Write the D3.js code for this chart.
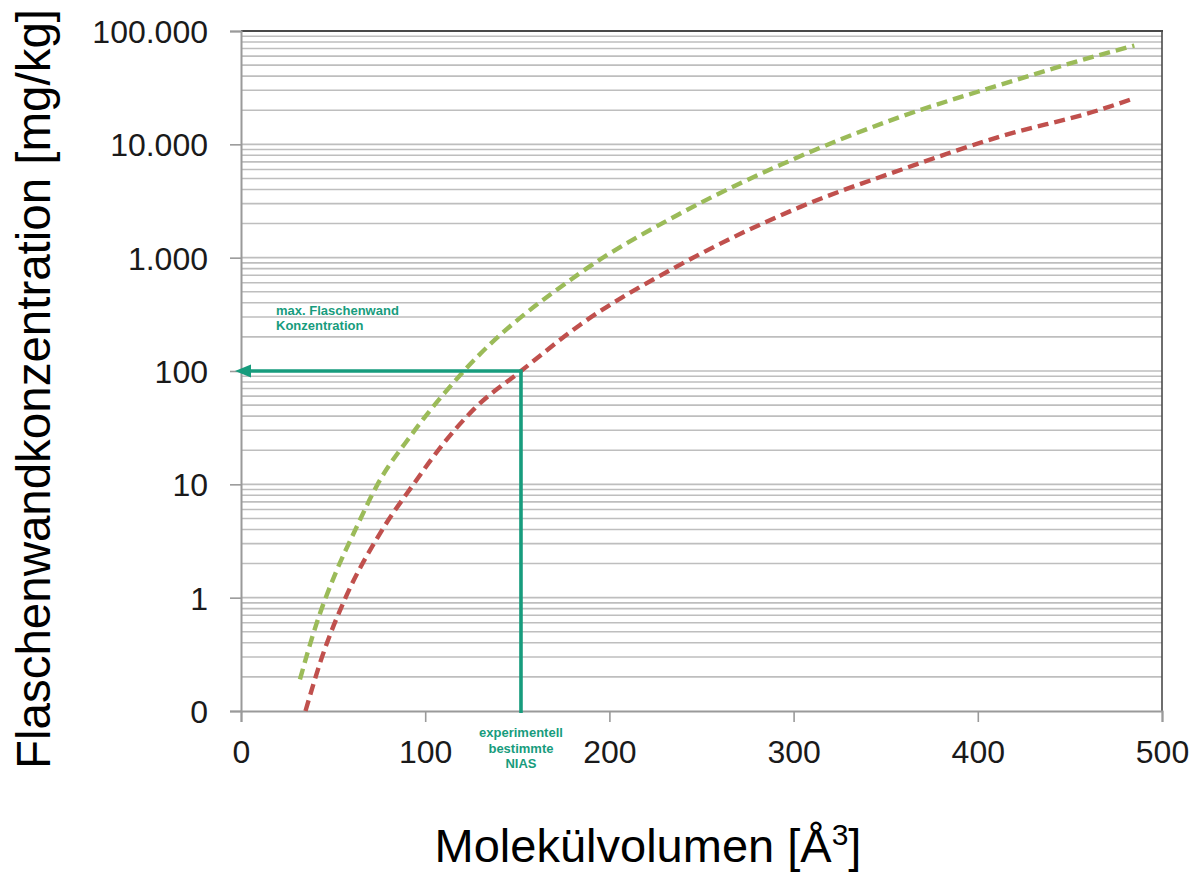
<!DOCTYPE html>
<html>
<head>
<meta charset="utf-8">
<script src="https://cdn.jsdelivr.net/npm/d3@7"></script>
<style>
  html, body { margin: 0; padding: 0; background: #ffffff; }
  svg { display: block; font-family: "Liberation Sans", Arial, sans-serif; }
</style>
</head>
<body>
<svg id="chart" width="1194" height="873"></svg>
<script>
// ---- data ----
const xTickValues = [0, 100, 200, 300, 400, 500];
const xTickLabels = ["0", "100", "200", "300", "400", "500"];
const yTickValues = [0.1, 1, 10, 100, 1000, 10000, 100000];
const yTickLabels = ["0", "1", "10", "100", "1.000", "10.000", "100.000"];

const greenVolume = [32, 41, 52, 62, 74, 93, 121, 184, 238, 293, 358, 412, 466, 485];
const greenConc   = [0.19, 0.59, 1.75, 3.95, 9.9, 28, 100, 730, 2430, 6600, 17500, 33400, 61400, 74300];

const redVolume = [35, 44, 57, 75.5, 94, 110, 127, 152, 184, 238, 304, 358, 412, 466, 485];
const redConc   = [0.1, 0.3, 1.02, 3.7, 10.2, 23, 47, 100, 255, 860, 2820, 5940, 11700, 20100, 25500];

const niasVolume = 152;
const niasConc = 100;
const niasLabel = ["experimentell", "bestimmte", "NIAS"];
const maxLabel = ["max. Flaschenwand", "Konzentration"];

const xTitle = "Molekülvolumen [Å";
const xTitleSup = "3";
const yTitle = "Flaschenwandkonzentration [mg/kg]";

// ---- layout ----
const plotLeft = 241, plotRight = 1162, plotTop = 31, plotBottom = 711;
const svg = d3.select("#chart");

const x = d3.scaleLinear().domain([0, 500]).range([plotLeft, plotRight]);
const y = d3.scaleLog().domain([0.1, 100000]).range([plotBottom, plotTop]);

const teal = "#179C7D";
const gridColor = "#BEBEBE";

// grid lines (major + minor per decade)
const gridVals = [];
for (let e = -1; e < 5; e++) {
  for (let m = 1; m <= 9; m++) {
    const v = m * Math.pow(10, e);
    if (v > 0.1) gridVals.push(v);
  }
}
svg.append("g").selectAll("line").data(gridVals).join("line")
  .attr("x1", plotLeft).attr("x2", plotRight)
  .attr("y1", d => y(d)).attr("y2", d => y(d))
  .attr("stroke", gridColor).attr("stroke-width", 1.6);

// top and right border
svg.append("line").attr("x1", plotLeft).attr("x2", plotRight + 1).attr("y1", y(100000)).attr("y2", y(100000))
  .attr("stroke", "#4a4a4a").attr("stroke-width", 2);
svg.append("line").attr("x1", plotRight).attr("x2", plotRight).attr("y1", plotTop).attr("y2", plotBottom)
  .attr("stroke", "#4a4a4a").attr("stroke-width", 1.6);

// y axis
const yAxis = d3.axisLeft(y).tickValues(yTickValues)
  .tickFormat((d, i) => yTickLabels[i]).tickSize(11).tickPadding(22);
const gy = svg.append("g").attr("transform", `translate(${plotLeft},0)`).call(yAxis);
gy.select(".domain").attr("stroke", "#9a9a9a").attr("stroke-width", 2);
gy.selectAll(".tick line").attr("stroke", "#9a9a9a").attr("stroke-width", 1.6);
gy.selectAll(".tick text").attr("font-size", 32).attr("fill", "#1a1a1a")
  .attr("font-family", "Liberation Sans, Arial, sans-serif").attr("dy", "0.36em");

// x axis
const xAxis = d3.axisBottom(x).tickValues(xTickValues)
  .tickFormat((d, i) => xTickLabels[i]).tickSize(11).tickPadding(18);
const gx = svg.append("g").attr("transform", `translate(0,${plotBottom})`).call(xAxis);
gx.select(".domain").attr("stroke", "#9a9a9a").attr("stroke-width", 2);
gx.selectAll(".tick line").attr("stroke", "#9a9a9a").attr("stroke-width", 1.6);
gx.selectAll(".tick text").attr("font-size", 32).attr("fill", "#1a1a1a")
  .attr("font-family", "Liberation Sans, Arial, sans-serif").attr("dy", "0.71em");

// curves
const line = d3.line().x(d => x(d[0])).y(d => y(d[1])).curve(d3.curveMonotoneX);
svg.append("path").datum(d3.zip(greenVolume, greenConc))
  .attr("d", line).attr("fill", "none").attr("stroke", "#9BBB59")
  .attr("stroke-width", 4.4).attr("stroke-dasharray", "11,6");
svg.append("path").datum(d3.zip(redVolume, redConc))
  .attr("d", line).attr("fill", "none").attr("stroke", "#C0504D")
  .attr("stroke-width", 4.4).attr("stroke-dasharray", "11,6");

// NIAS marker lines
svg.append("path")
  .attr("d", `M${x(niasVolume)},${y(0.1) + 2} L${x(niasVolume)},${y(niasConc)} L${x(0) - 1},${y(niasConc)}`)
  .attr("fill", "none").attr("stroke", teal).attr("stroke-width", 3.6);
const ax = x(0) - 6, ay = y(niasConc);
svg.append("path")
  .attr("d", `M${ax},${ay} L${ax + 16},${ay - 6.5} L${ax + 16},${ay + 6.5} Z`)
  .attr("fill", teal);

// annotations
svg.append("text").attr("x", 276).attr("y", 315)
  .attr("font-size", 13).attr("font-weight", "bold").attr("fill", teal)
  .selectAll("tspan").data(maxLabel).join("tspan")
  .attr("x", 276).attr("dy", (d, i) => i === 0 ? 0 : 15).text(d => d);

svg.append("text").attr("x", x(niasVolume)).attr("y", 737)
  .attr("font-size", 13).attr("font-weight", "bold").attr("fill", teal)
  .attr("text-anchor", "middle")
  .selectAll("tspan").data(niasLabel).join("tspan")
  .attr("x", x(niasVolume)).attr("dy", (d, i) => i === 0 ? 0 : 15.5).text(d => d);

// axis titles
const xt = svg.append("text").attr("x", 648).attr("y", 862)
  .attr("text-anchor", "middle").attr("font-size", 47).attr("fill", "#000");
xt.append("tspan").text(xTitle);
xt.append("tspan").text(xTitleSup).attr("font-size", 30).attr("dy", -17);
xt.append("tspan").text("]").attr("dy", 17);

svg.append("text")
  .attr("transform", "translate(50,389) rotate(-90)")
  .attr("text-anchor", "middle").attr("font-size", 48).attr("fill", "#000")
  .attr("textLength", 760).attr("lengthAdjust", "spacingAndGlyphs")
  .text(yTitle);
</script>
</body>
</html>
